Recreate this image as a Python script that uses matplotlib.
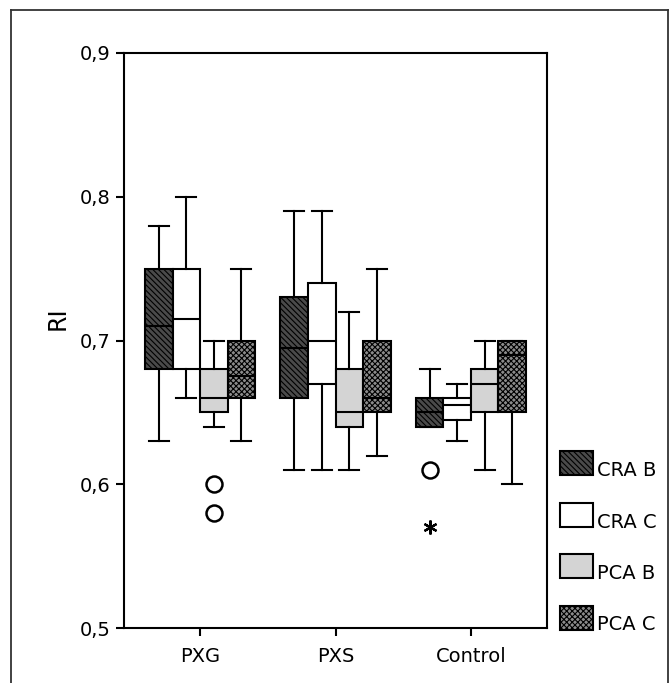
import matplotlib
matplotlib.use("Agg")
import matplotlib.pyplot as plt
from matplotlib.patches import Rectangle
from matplotlib.lines import Line2D
from matplotlib.ticker import FuncFormatter

# ---- data ----
groups = ["PXG", "PXS", "Control"]
series = ["CRA B", "CRA C", "PCA B", "PCA C"]

# per series: one value per group
whislo = {
    "CRA B": [0.63, 0.61, 0.64],
    "CRA C": [0.66, 0.61, 0.63],
    "PCA B": [0.64, 0.61, 0.61],
    "PCA C": [0.63, 0.62, 0.60],
}
q1 = {
    "CRA B": [0.68, 0.66, 0.64],
    "CRA C": [0.68, 0.67, 0.645],
    "PCA B": [0.65, 0.64, 0.65],
    "PCA C": [0.66, 0.65, 0.65],
}
med = {
    "CRA B": [0.71, 0.695, 0.65],
    "CRA C": [0.715, 0.70, 0.655],
    "PCA B": [0.66, 0.65, 0.67],
    "PCA C": [0.675, 0.66, 0.69],
}
q3 = {
    "CRA B": [0.75, 0.73, 0.66],
    "CRA C": [0.75, 0.74, 0.66],
    "PCA B": [0.68, 0.68, 0.68],
    "PCA C": [0.70, 0.70, 0.70],
}
whishi = {
    "CRA B": [0.78, 0.79, 0.68],
    "CRA C": [0.80, 0.79, 0.67],
    "PCA B": [0.70, 0.72, 0.70],
    "PCA C": [0.75, 0.75, 0.70],
}
outliers = {
    "CRA B": [[], [], [0.61]],
    "CRA C": [[], [], []],
    "PCA B": [[0.60, 0.58], [], []],
    "PCA C": [[], [], []],
}
extremes = {
    "CRA B": [[], [], [0.57]],
    "CRA C": [[], [], []],
    "PCA B": [[], [], []],
    "PCA C": [[], [], []],
}

styles = {
    "CRA B": dict(facecolor="#4a4a4a", hatch="\\\\\\\\\\\\"),
    "CRA C": dict(facecolor="white", hatch=None),
    "PCA B": dict(facecolor="#d4d4d4", hatch=None),
    "PCA C": dict(facecolor="#8c8c8c", hatch="xxxxxx"),
}

FONT = "DejaVu Sans"
plt.rcParams["font.family"] = FONT
plt.rcParams["hatch.linewidth"] = 0.8

W, H = 669, 683
fig = plt.figure(figsize=(W / 100, H / 100), dpi=100)
ax = fig.add_axes([124 / W, 1 - 628 / H, 423 / W, 575 / H])

width = 0.203
offsets = [-1.5, -0.5, 0.5, 1.5]

for si, s in enumerate(series):
    stats = []
    for gi in range(len(groups)):
        stats.append(dict(
            whislo=whislo[s][gi], q1=q1[s][gi], med=med[s][gi],
            q3=q3[s][gi], whishi=whishi[s][gi], fliers=outliers[s][gi],
        ))
    pos = [gi + 1 + offsets[si] * width for gi in range(len(groups))]
    st = styles[s]
    res = ax.bxp(stats, positions=pos, widths=width, patch_artist=True,
                 showfliers=True, manage_ticks=False,
                 boxprops=dict(edgecolor="black", linewidth=1.5),
                 medianprops=dict(color="black", linewidth=1.5),
                 whiskerprops=dict(color="black", linewidth=1.5),
                 capprops=dict(color="black", linewidth=1.5),
                 capwidths=width * 0.73,
                 flierprops=dict(marker="o", markersize=11.5, markerfacecolor="white",
                                 markeredgecolor="black", markeredgewidth=1.8))
    for b in res["boxes"]:
        b.set_facecolor(st["facecolor"])
        if st["hatch"]:
            b.set_hatch(st["hatch"])
    for gi in range(len(groups)):
        for v in extremes[s][gi]:
            ax.plot(pos[gi], v, marker=(6, 2, 0), markersize=10, color="black",
                    markeredgewidth=1.6, linestyle="none")

ax.set_xlim(0.439, 3.561)
ax.set_ylim(0.5, 0.9)
ax.set_xticks(range(1, len(groups) + 1))
ax.set_xticklabels(groups)
ax.set_yticks([0.5, 0.6, 0.7, 0.8, 0.9])
ax.yaxis.set_major_formatter(FuncFormatter(lambda v, p: f"{v:.1f}".replace(".", ",")))
ax.tick_params(axis="both", direction="out", length=6, width=1.5, labelsize=14, colors="black")
ax.tick_params(axis="x", pad=8)
for sp in ax.spines.values():
    sp.set_linewidth(1.5)
ax.set_ylabel("RI", fontsize=17)
ax.yaxis.set_label_coords(-0.128, 0.539)

# legend drawn by hand next to the axes
for i, s in enumerate(series):
    y_top = 451 + i * 51.5
    fig.add_artist(Rectangle((560 / W, 1 - (y_top + 24) / H), 33 / W, 24 / H,
                             transform=fig.transFigure, facecolor=styles[s]["facecolor"],
                             hatch=styles[s]["hatch"], edgecolor="black", linewidth=1.5))
    fig.text(597 / W, 1 - (y_top + 25) / H, s, fontsize=14, ha="left", va="baseline")

# outer frame (bottom edge cut off in the reference)
for xs, ys in [((11, 11), (683, 10)), ((11, 668), (10, 10)), ((668, 668), (10, 683))]:
    fig.add_artist(Line2D([x / W for x in xs], [1 - y / H for y in ys],
                          transform=fig.transFigure, color="#333333", linewidth=1.3))

fig.savefig("out.png", dpi=100)
